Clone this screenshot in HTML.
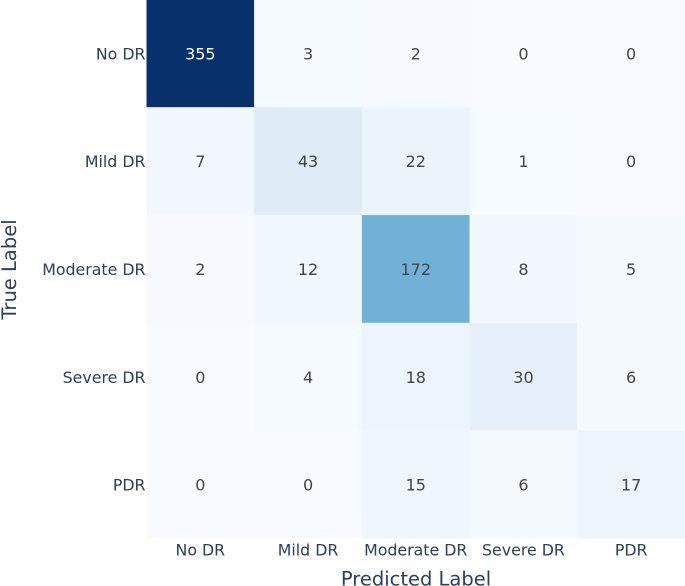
<!DOCTYPE html>
<html lang="en">
<head>
<meta charset="utf-8">
<title>Confusion Matrix</title>
<style>
html,body{margin:0;padding:0;background:#fff;width:685px;height:586px;overflow:hidden}
svg{display:block;font-family:"DejaVu Sans",Verdana,sans-serif}
</style>
</head>
<body>
<svg id="chart" width="685" height="586" viewBox="0 0 685 586" xmlns="http://www.w3.org/2000/svg">
<g id="cells"></g>
<g id="values"></g>
<g id="xticks"></g>
<g id="yticks"></g>
<text x="416" y="585.5" text-anchor="middle" font-size="19.5" fill="#2a3f5f">Predicted Label</text>
<text transform="translate(16,269.5) rotate(-90)" text-anchor="middle" font-size="19.5" fill="#2a3f5f">True Label</text>
</svg>
<script>
const predictedLabels = ["No DR", "Mild DR", "Moderate DR", "Severe DR", "PDR"];
const trueLabels = ["No DR", "Mild DR", "Moderate DR", "Severe DR", "PDR"];
const rowNoDR = [355, 3, 2, 0, 0];
const rowMildDR = [7, 43, 22, 1, 0];
const rowModerateDR = [2, 12, 172, 8, 5];
const rowSevereDR = [0, 4, 18, 30, 6];
const rowPDR = [0, 0, 15, 6, 17];
const matrix = [rowNoDR, rowMildDR, rowModerateDR, rowSevereDR, rowPDR];

const NS = "http://www.w3.org/2000/svg";
const plot = {left: 146.5, top: -0.5, width: 538.5, height: 539};
const ramp = [[247,251,255],[222,235,247],[198,219,239],[158,202,225],[107,174,214],[66,146,198],[33,113,181],[8,81,156],[8,48,107]];

const xBand = plot.width / predictedLabels.length;
const yBand = plot.height / trueLabels.length;
const xPos = i => plot.left + i * xBand;
const yPos = i => plot.top + i * yBand;

const allValues = matrix.reduce((a, r) => a.concat(r), []);
const vMin = Math.min.apply(null, allValues);
const vMax = Math.max.apply(null, allValues);

function colorFor(v) {
  const t = (v - vMin) / ((vMax - vMin) || 1) * (ramp.length - 1);
  const i = Math.min(Math.floor(t), ramp.length - 2);
  const f = t - i;
  const c = ramp[i].map((a, k) => Math.round(a + (ramp[i + 1][k] - a) * f));
  return "rgb(" + c.join(",") + ")";
}
function makeText(parent, x, y, str, anchor, size, fill) {
  const t = document.createElementNS(NS, "text");
  t.setAttribute("x", x);
  t.setAttribute("y", y);
  t.setAttribute("text-anchor", anchor);
  t.setAttribute("font-size", size);
  t.setAttribute("fill", fill);
  t.textContent = str;
  parent.appendChild(t);
  return t;
}

const cellsG = document.getElementById("cells");
const valuesG = document.getElementById("values");
const xG = document.getElementById("xticks");
const yG = document.getElementById("yticks");

matrix.forEach((row, r) => {
  row.forEach((v, c) => {
    const rect = document.createElementNS(NS, "rect");
    rect.setAttribute("x", xPos(c));
    rect.setAttribute("y", yPos(r));
    rect.setAttribute("width", xBand);
    rect.setAttribute("height", yBand);
    rect.setAttribute("fill", colorFor(v));
    
    
    cellsG.appendChild(rect);

    const ratio = (v - vMin) / ((vMax - vMin) || 1);
    const label = makeText(valuesG, xPos(c) + xBand / 2, yPos(r) + yBand / 2 + 6, String(v), "middle", 16, ratio > 0.6 ? "#ffffff" : "#444444");
    
    
  });
});

predictedLabels.forEach((name, i) => {
  const t = makeText(xG, xPos(i) + xBand / 2, 555.5, name, "middle", 15.8, "#2a3f5f");
  
  
});
trueLabels.forEach((name, i) => {
  const t = makeText(yG, 145.5, yPos(i) + yBand / 2 + 6, name, "end", 15.8, "#2a3f5f");
  
  
});
</script>
</body>
</html>
